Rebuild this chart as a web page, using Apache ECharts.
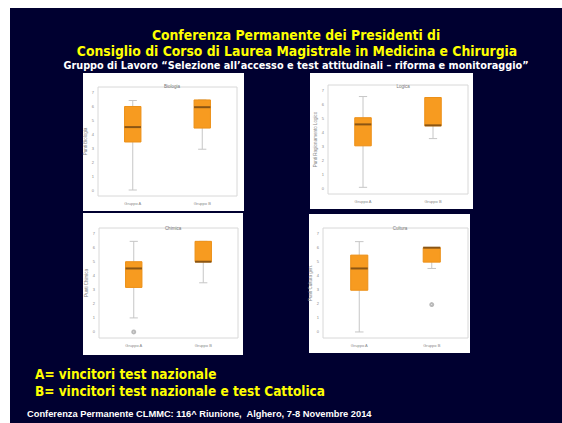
<!DOCTYPE html>
<html><head><meta charset="utf-8">
<script src="https://cdn.jsdelivr.net/npm/echarts@6/dist/echarts.min.js"></script>
<style>html,body{margin:0;padding:0;background:#fff;}#c{width:562px;height:423px;}</style>
</head><body><div id="c"></div>
<script>
// ---- data ----
const categories = ['Gruppo A', 'Gruppo B'];
const panelTitles = ['Biologia', 'Logica', 'Chimica', 'Cultura'];
const yNames = ['Punti Biologia', 'Punti Ragionamento Logico', 'Punti Chimica', 'Punti Cultura gen.'];
const tickValues = [0, 1, 2, 3, 4, 5, 6, 7];
const tickLabels = ['0', '1', '2', '3', '4', '5', '6', '7'];
// [min, Q1, median, Q3, max] for A and B
const panel1 = [[0, 3.45, 4.52, 6.0, 6.43], [2.93, 4.45, 5.95, 6.47, 6.47]];
const panel2 = [[0.05, 3.03, 4.57, 5.05, 6.57], [3.55, 4.47, 4.5, 6.5, 6.5]];
const panel3 = [[1.0, 3.17, 4.52, 5.0, 6.45], [3.5, 5.0, 5.0, 6.45, 6.45]];
const panel4 = [[0, 2.97, 4.52, 5.47, 6.43], [4.52, 4.97, 6.0, 6.0, 6.0]];
// outliers: [categoryIndex, value]
const outliers1 = [];
const outliers2 = [];
const outliers3 = [[0, 0]];
const outliers4 = [[1, 1.95]];
const mainTitle1 = 'Conferenza Permanente dei Presidenti di';
const mainTitle2 = 'Consiglio di Corso di Laurea Magistrale in Medicina e Chirurgia';
const subTitle = 'Gruppo di Lavoro \u201cSelezione all\u2019accesso e test attitudinali \u2013 riforma e monitoraggio\u201d';
const legendA = 'A= vincitori test nazionale';
const legendB = 'B= vincitori test nazionale e test Cattolica';
const footer = 'Conferenza Permanente CLMMC: 116^ Riunione,  Alghero, 7-8 Novembre 2014';

const panels = [panel1, panel2, panel3, panel4];
const outliers = [outliers1, outliers2, outliers3, outliers4];

// ---- layout ----
const grids = [
  {left: 98, top: 87, width: 139, height: 109},
  {left: 328, top: 85, width: 140, height: 109},
  {left: 99, top: 228, width: 139, height: 110},
  {left: 323, top: 228, width: 145, height: 110}
];
const panelRects = [
  {x: 83, y: 73, w: 161, h: 138},
  {x: 310, y: 73, w: 163, h: 136},
  {x: 83, y: 213, w: 160, h: 142},
  {x: 309, y: 214, w: 161, h: 139}
];
const titlePos = [[167, 79], [398, 79], [168, 221], [395, 221]];

const chart = echarts.init(document.getElementById('c'), null, {renderer: 'svg'});

function renderBox(params, api) {
  const x = api.value(0);
  const mn = api.coord([x, api.value(1)]);
  const q1 = api.coord([x, api.value(2)]);
  const md = api.coord([x, api.value(3)]);
  const q3 = api.coord([x, api.value(4)]);
  const mx = api.coord([x, api.value(5)]);
  const band = api.size([1, 0])[0];
  const hw = band * 0.118;
  const cw = hw * 0.5;
  const cx = mn[0];
  const ws = {stroke: '#c6c6c6', lineWidth: 1};
  return {
    type: 'group',
    children: [
      {type: 'line', shape: {x1: cx, y1: mx[1], x2: cx, y2: q3[1]}, style: ws},
      {type: 'line', shape: {x1: cx, y1: q1[1], x2: cx, y2: mn[1]}, style: ws},
      {type: 'line', shape: {x1: cx - cw, y1: mx[1], x2: cx + cw, y2: mx[1]}, style: ws},
      {type: 'line', shape: {x1: cx - cw, y1: mn[1], x2: cx + cw, y2: mn[1]}, style: ws},
      {type: 'rect', shape: {x: cx - hw, y: q3[1], width: hw * 2, height: q1[1] - q3[1]},
        style: {fill: '#F79B20', stroke: '#EC9018', lineWidth: 1}},
      {type: 'line', shape: {x1: cx - hw, y1: md[1], x2: cx + hw, y2: md[1]},
        style: {stroke: '#8a5514', lineWidth: 2}}
    ]
  };
}

const bigFont = 'DejaVu Sans Condensed';
const option = {
  animation: false,
  backgroundColor: '#ffffff',
  title: [
    {text: mainTitle1, left: 291, top: 23, textAlign: 'center',
      textStyle: {color: '#ffff00', fontSize: 13.8, fontWeight: 'bold', fontFamily: bigFont}},
    {text: mainTitle2, left: 292, top: 39, textAlign: 'center',
      textStyle: {color: '#ffff00', fontSize: 13.8, fontWeight: 'bold', fontFamily: bigFont}},
    {text: subTitle, left: 291, top: 55, textAlign: 'center',
      textStyle: {color: '#ffffff', fontSize: 10.8, fontWeight: 'bold', fontFamily: bigFont}},
    {text: legendA, left: 30, top: 362,
      textStyle: {color: '#ffff00', fontSize: 13.5, fontWeight: 'bold', fontFamily: bigFont}},
    {text: legendB, left: 30, top: 379,
      textStyle: {color: '#ffff00', fontSize: 13.5, fontWeight: 'bold', fontFamily: bigFont}},
    {text: footer, left: 22, top: 404,
      textStyle: {color: '#ffffff', fontSize: 9.3, fontWeight: 'bold', fontFamily: 'Liberation Sans'}}
  ].concat(panelTitles.map((t, i) => ({
    text: t, left: titlePos[i][0], top: titlePos[i][1], textAlign: 'center',
    textStyle: {color: '#777', fontSize: 4.5, fontWeight: 'normal', fontFamily: 'Liberation Sans'}
  }))),
  graphic: [
    {type: 'rect', z: -100, shape: {x: 10, y: 8, width: 552, height: 415}, style: {fill: '#000030'}}
  ].concat(panelRects.map(r => ({
    type: 'rect', z: -90, shape: {x: r.x, y: r.y, width: r.w, height: r.h}, style: {fill: '#ffffff'}
  }))),
  grid: grids.map(g => Object.assign({show: true, borderColor: '#d8d8d8', borderWidth: 1, backgroundColor: '#fff'}, g)),
  xAxis: grids.map((g, i) => ({
    type: 'category', gridIndex: i, data: categories,
    axisLine: {show: false}, axisTick: {show: false},
    axisLabel: {fontSize: 4, color: '#888', margin: 5, fontFamily: 'Liberation Sans'}
  })),
  yAxis: grids.map((g, i) => ({
    type: 'value', gridIndex: i, min: -0.43, max: 7.4,
    axisLine: {show: false}, splitLine: {show: false},
    axisTick: {show: false},
    axisLabel: {fontSize: 4, color: '#888', margin: 4, fontFamily: 'Liberation Sans',
      customValues: tickValues,
      formatter: v => { const k = tickValues.indexOf(v); return k >= 0 ? tickLabels[k] : ''; }},
    name: yNames[i], nameLocation: 'middle', nameGap: 9,
    nameTextStyle: {fontSize: 4.5, color: '#888', fontFamily: 'Liberation Sans'}
  })),
  series: panels.map((p, i) => ({
    type: 'custom', xAxisIndex: i, yAxisIndex: i,
    renderItem: renderBox,
    encode: {x: 0, y: [1, 2, 3, 4, 5]},
    data: p.map((d, k) => [k].concat(d))
  })).concat(outliers.map((o, i) => ({
    type: 'scatter', xAxisIndex: i, yAxisIndex: i, z: 5,
    symbol: 'emptyCircle', symbolSize: 3,
    itemStyle: {color: '#a8a8a8', borderColor: '#a8a8a8', borderWidth: 0.8},
    data: o
  })))
};
chart.setOption(option);
</script></body></html>
